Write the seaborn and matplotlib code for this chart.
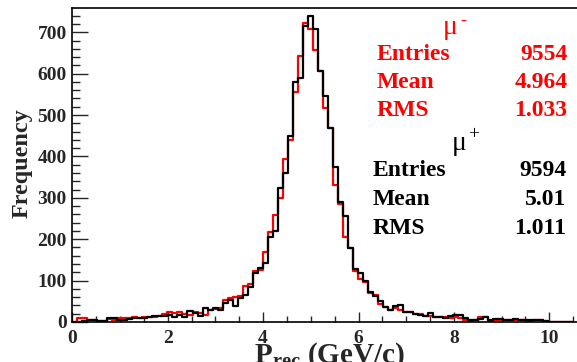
import numpy as np
import pandas as pd
import matplotlib
matplotlib.use("Agg")
import matplotlib.pyplot as plt
import seaborn as sns
from matplotlib.ticker import MultipleLocator

# ---- data ----
bin_width = 0.105
n_bins = 100
mu_minus_counts = [1, 9, 9, 6, 5, 2, 3, 7, 6, 9, 9, 10, 11, 9, 11, 13, 13, 15, 20,
                   25, 21, 25, 19, 17, 25, 21, 17, 29, 31, 35, 53, 57, 60, 64,
                   88, 91, 124, 126, 170, 218, 258, 300, 395, 440,
                   556, 643, 722, 707, 657, 606, 516, 468, 330, 285,
                   205, 178, 124, 103, 97, 69, 66, 43, 37, 29,
                   35, 29, 25, 23, 19, 19, 14, 14, 11, 11, 11, 9, 11, 9, 6, 3, 5, 11, 13, 2,
                   5, 6, 4, 5, 6, 4, 5, 3, 4, 6, 3,
                   0, 0, 0, 0, 0]
mu_plus_counts = [0, 1, 3, 5, 6, 2, 2, 10, 10, 5, 6, 7, 9, 10, 9, 11, 14, 14, 15,
                  17, 13, 17, 13, 27, 22, 15, 33, 29, 35, 30, 45, 53, 39, 57,
                  66, 85, 118, 130, 142, 205, 220, 323, 359, 450,
                  580, 589, 715, 740, 708, 606, 547, 468, 375, 290,
                  255, 178, 128, 118, 100, 72, 62, 50, 36, 28,
                  38, 42, 25, 25, 19, 17, 14, 21, 13, 11, 9, 14, 17, 18, 9, 5, 6, 8, 11, 5,
                  7, 8, 6, 6, 7, 5, 6, 4, 5, 4, 3,
                  0, 0, 0, 0, 0]
stats_minus = {"Entries": "9554", "Mean": "4.964", "RMS": "1.033"}
stats_plus = {"Entries": "9594", "Mean": "5.01", "RMS": "1.011"}

edges = [round(i * bin_width, 4) for i in range(n_bins + 1)]
centers = [0.5 * (edges[i] + edges[i + 1]) for i in range(n_bins)]
df_minus = pd.DataFrame({"p": centers, "w": mu_minus_counts})
df_plus = pd.DataFrame({"p": centers, "w": mu_plus_counts})

# ---- style ----
sns.set_style("white")
serif = ["Liberation Serif", "DejaVu Serif"]
plt.rcParams["font.family"] = serif
plt.rcParams["mathtext.fontset"] = "custom"
plt.rcParams["mathtext.rm"] = "Liberation Serif"
plt.rcParams["mathtext.bf"] = "Liberation Serif:bold"
plt.rcParams["mathtext.it"] = "Liberation Serif:italic"

W, H = 577, 362
fig = plt.figure(figsize=(W / 100, H / 100), dpi=100)
ax = fig.add_axes([72.3 / W, 1 - 322 / H, (W - 72.3) / W, (322 - 8) / H])

sns.histplot(data=df_minus, x="p", weights="w", bins=edges,
             element="step", fill=False, color="red", linewidth=1.6, ax=ax)
sns.histplot(data=df_plus, x="p", weights="w", bins=edges,
             element="step", fill=False, color="black", linewidth=1.6, ax=ax)

ax.set_xlim(0, (W - 72.3) / 47.7)
ax.set_ylim(0, 758.6)
ax.spines["right"].set_visible(False)
for s in ("left", "bottom", "top"):
    ax.spines[s].set_linewidth(1.2)
    ax.spines[s].set_color("black")

ax.xaxis.set_major_locator(MultipleLocator(2))
ax.xaxis.set_minor_locator(MultipleLocator(0.5))
ax.yaxis.set_major_locator(MultipleLocator(100))
ax.yaxis.set_minor_locator(MultipleLocator(20))
ax.tick_params(axis="x", which="major", direction="in", length=7.4, width=1.0,
               pad=5.5, labelsize=14, top=False, bottom=True)
ax.tick_params(axis="x", which="minor", direction="in", length=4.2, width=1.0,
               top=False, bottom=True)
ax.tick_params(axis="y", which="major", direction="in", length=11.5, width=1.0,
               pad=4, labelsize=14, left=True, right=False)
ax.tick_params(axis="y", which="minor", direction="in", length=5.8, width=1.0,
               left=True, right=False)
for lab in ax.get_xticklabels() + ax.get_yticklabels():
    lab.set_fontweight("bold")

ax.set_ylabel("Frequency", fontsize=17.4, fontweight="bold")
ax.yaxis.set_label_coords((33 - 72.3) / (W - 72.3), 0.505)
ax.set_xlabel(r"$\mathbf{P}_{\mathbf{rec}}$ (GeV/c)", fontsize=21, fontweight="bold")
ax.xaxis.set_label_coords((329 - 72.3) / (W - 72.3), (322 - 340) / 314)


def fx(px):
    return px / W


def fy(py):
    return 1 - py / H


# mu- block
fig.text(fx(443), fy(34), "μ", color="red", fontsize=20, family=serif, va="baseline")
fig.text(fx(460), fy(26), "-", color="red", fontsize=13, family=serif, va="baseline")
for (k, v), yb in zip(stats_minus.items(), [60, 88, 116]):
    fig.text(fx(377), fy(yb), k, color="red", fontsize=17, fontweight="bold",
             family=serif, va="baseline", ha="left")
    fig.text(fx(567.5), fy(yb), v, color="red", fontsize=17, fontweight="bold",
             family=serif, va="baseline", ha="right")

# mu+ block
fig.text(fx(452), fy(150), "μ", color="black", fontsize=20, family=serif, va="baseline")
fig.text(fx(468), fy(139), "+", color="black", fontsize=14, family=serif, va="baseline")
for (k, v), yb in zip(stats_plus.items(), [176, 205, 234]):
    fig.text(fx(372.5), fy(yb), k, color="black", fontsize=17, fontweight="bold",
             family=serif, va="baseline", ha="left")
    fig.text(fx(566.5), fy(yb), v, color="black", fontsize=17, fontweight="bold",
             family=serif, va="baseline", ha="right")

fig.savefig("out.png", dpi=100)
